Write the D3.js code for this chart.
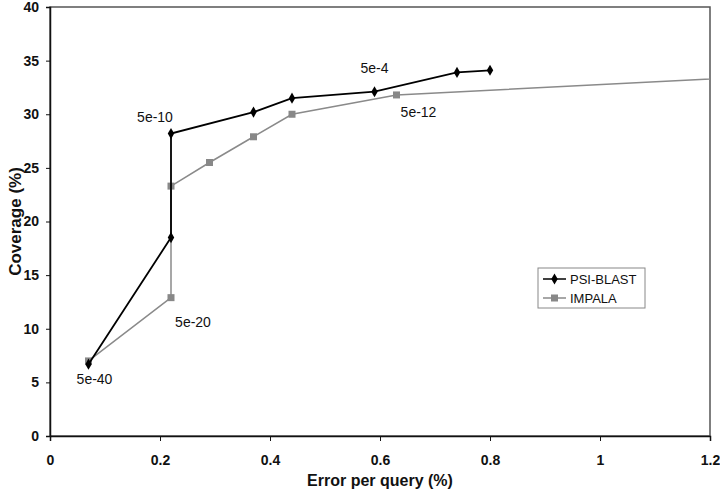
<!DOCTYPE html>
<html><head><meta charset="utf-8">
<script src="https://cdn.jsdelivr.net/npm/d3@7"></script>
<style>body{margin:0;background:#fff}svg{display:block}text{font-family:"Liberation Sans",Arial,Helvetica,sans-serif}</style>
</head><body><svg id="c" width="720" height="491"></svg>
<script>
const psiX = [0.07, 0.22, 0.22, 0.37, 0.44, 0.59, 0.74, 0.80];
const psiY = [6.7, 18.5, 28.2, 30.2, 31.5, 32.1, 33.9, 34.1];
const impX = [0.07, 0.22, 0.22, 0.29, 0.37, 0.44, 0.63, 1.40];
const impY = [7.0, 12.9, 23.3, 25.5, 27.9, 30.0, 31.8, 33.8];
const xTicks = [0, 0.2, 0.4, 0.6, 0.8, 1, 1.2];
const yTicks = [0, 5, 10, 15, 20, 25, 30, 35, 40];
const notes = [
  {label:"5e-40", x:0.07, y:6.7, dx:6, dy:20},
  {label:"5e-20", x:0.22, y:12.9, dx:22, dy:29},
  {label:"5e-10", x:0.22, y:28.2, dx:-16, dy:-12},
  {label:"5e-4", x:0.59, y:32.1, dx:0, dy:-19},
  {label:"5e-12", x:0.63, y:31.8, dx:22, dy:22}
];

const svg = d3.select("#c");
const m = {l:50, r:10, t:7, b:55};
const W = 720, H = 491;
const x = d3.scaleLinear().domain([0,1.2]).range([m.l, W-m.r]);
const y = d3.scaleLinear().domain([0,40]).range([H-m.b, m.t]);

svg.append("defs").append("clipPath").attr("id","clip")
  .append("rect").attr("x",m.l).attr("y",m.t).attr("width",x(1.2)-m.l).attr("height",y(0)-m.t);

svg.append("rect").attr("x",m.l).attr("y",m.t).attr("width",x(1.2)-m.l).attr("height",y(0)-m.t)
  .attr("fill","none").attr("stroke","#555").attr("stroke-width",1.5);

const xa = svg.append("g").attr("transform",`translate(0,${y(0)})`)
  .call(d3.axisBottom(x).tickValues(xTicks).tickSize(5).tickPadding(14).tickFormat(d=>d3.format("")(d)));
const ya = svg.append("g").attr("transform",`translate(${m.l},0)`)
  .call(d3.axisLeft(y).tickValues(yTicks).tickSize(4).tickPadding(7));
[xa,ya].forEach(a=>{
  a.select(".domain").attr("stroke","#111").attr("stroke-width",1.5);
  a.selectAll(".tick line").attr("stroke","#111");
  a.selectAll("text").attr("font-size",14).attr("font-weight","bold").attr("fill","#111");
});

svg.append("text").attr("x",(x(0)+x(1.2))/2).attr("y",486).attr("text-anchor","middle")
  .attr("font-size",16).attr("font-weight","bold").attr("fill","#111").text("Error per query (%)");
svg.append("text").attr("transform",`translate(21,${(y(0)+y(40))/2}) rotate(-90)`).attr("text-anchor","middle")
  .attr("font-size",17).attr("font-weight","bold").attr("fill","#111").text("Coverage (%)");

const line = d3.line().x(d=>x(d[0])).y(d=>y(d[1]));
const psi = psiX.map((v,i)=>[v,psiY[i]]);
const imp = impX.map((v,i)=>[v,impY[i]]);
const g = svg.append("g").attr("clip-path","url(#clip)");
g.append("path").datum(imp).attr("d",line).attr("fill","none").attr("stroke","#8a8a8a").attr("stroke-width",1.5);
g.selectAll(".sq").data(imp).join("rect").attr("x",d=>x(d[0])-3.5).attr("y",d=>y(d[1])-3.5)
  .attr("width",7).attr("height",7).attr("fill","#888");
g.append("path").datum(psi).attr("d",line).attr("fill","none").attr("stroke","#000").attr("stroke-width",1.8);
const dia = d3.symbol().type(d3.symbolDiamond).size(36);
g.selectAll(".dm").data(psi).join("path").attr("d",dia).attr("transform",d=>`translate(${x(d[0])},${y(d[1])})`).attr("fill","#000");

svg.selectAll(".note").data(notes).join("text").attr("x",d=>x(d.x)+d.dx).attr("y",d=>y(d.y)+d.dy)
  .attr("text-anchor","middle").attr("font-size",14).attr("fill","#111").text(d=>d.label);

const lg = svg.append("g");
lg.append("rect").attr("x",538).attr("y",268).attr("width",107).attr("height",40).attr("fill","#fff").attr("stroke","#888");
lg.append("line").attr("x1",543).attr("x2",566).attr("y1",279).attr("y2",279).attr("stroke","#000").attr("stroke-width",1.5);
lg.append("path").attr("d",dia).attr("transform","translate(554.5,279)").attr("fill","#000");
lg.append("text").attr("x",570).attr("y",284).attr("font-size",13).attr("fill","#111").text("PSI-BLAST");
lg.append("line").attr("x1",543).attr("x2",566).attr("y1",298).attr("y2",298).attr("stroke","#8a8a8a").attr("stroke-width",1.5);
lg.append("rect").attr("x",551).attr("y",294.5).attr("width",7).attr("height",7).attr("fill","#888");
lg.append("text").attr("x",570).attr("y",303).attr("font-size",13).attr("fill","#111").text("IMPALA");
</script></body></html>
